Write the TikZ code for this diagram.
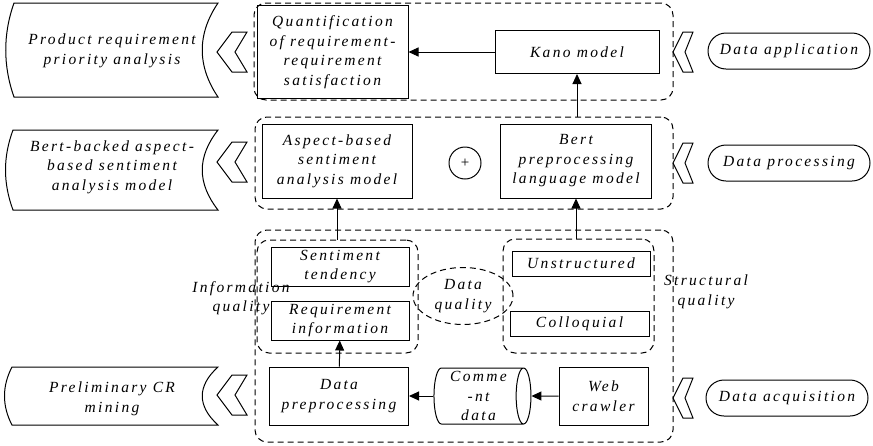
\documentclass[tikz,border=0pt]{standalone}
\usepackage{fontspec}
\setmainfont{Liberation Serif}[LetterSpace=15]
\usetikzlibrary{shapes.geometric,shapes.misc,arrows.meta}

\tikzset{
    box/.style={draw, rectangle, align=center, inner sep=0pt},
    group/.style={draw, dashed, dash pattern=on 6pt off 4pt, rounded corners=12pt, rectangle, inner sep=0pt},
    stage/.style={draw, rounded rectangle, minimum width=162pt, minimum height=36pt, inner sep=0pt},
    arr/.style={-{Triangle[length=10pt,width=9pt]}},
    chevron/.pic={\draw (0,0) -- (10,-20) -- (20,-20) -- (12,0) -- (20,20) -- (10,20) -- cycle;}
}

\begin{document}
\begin{tikzpicture}[x=1pt, y=-1pt, line width=1pt,
    font=\fontsize{15.5}{19.5}\selectfont\itshape]
        \useasboundingbox (0,0) rectangle (873,445);

        \node[group, minimum width=419pt, minimum height=97pt] (AppGroup) at (463.5,51.5) {};
        \node[group, minimum width=418pt, minimum height=92pt] (ProcGroup) at (464,163) {};
        \node[group, minimum width=418pt, minimum height=212pt] (AcqGroup) at (464,336) {};
        \node[group, minimum width=161pt, minimum height=113pt] (InfoGroup) at (337.5,296.5) {};
        \node[group, minimum width=151pt, minimum height=114pt] (StructGroup) at (578.5,296) {};

        \node[box, minimum width=151pt, minimum height=93pt] (Quant) at (332.5,52) {Quantification\\of requirement-\\requirement\\satisfaction};
        \node[box, minimum width=164pt, minimum height=43pt] (Kano) at (577,52) {Kano model};
        \node[box, minimum width=150pt, minimum height=74pt] (Aspect) at (337,161) {Aspect-based\\sentiment\\analysis model};
        \node[box, minimum width=151pt, minimum height=74pt] (Bert) at (576,161) {Bert\\preprocessing\\language model};
        \node[draw, circle, minimum size=32pt, inner sep=0pt] (Plus) at (465,163) {\normalfont\fontsize{15}{15}\selectfont +};

        \node[box, minimum width=138pt, minimum height=39pt] (Sentiment) at (340,266.5) {Sentiment\\tendency};
        \node[box, minimum width=138pt, minimum height=39pt] (ReqInfo) at (340,320.5) {Requirement\\information};
        \node[box, minimum width=138pt, minimum height=25pt] (Unstructured) at (581,263.5) {Unstructured};
        \node[box, minimum width=139pt, minimum height=25pt] (Colloquial) at (579.5,323.5) {Colloquial};
        \node[draw, ellipse, dashed, dash pattern=on 6pt off 4pt, minimum width=100pt, minimum height=57pt, inner sep=0pt, align=center] (DataQuality) at (463,296) {Data\\quality};
        \node[align=center] (InfoQuality) at (241,298) {Information\\quality};
        \node[align=center] (StructQuality) at (706,292) {Structural\\quality};

        \node[box, minimum width=139pt, minimum height=58pt] (Prep) at (339,396) {Data\\preprocessing};
        \node[draw, cylinder, aspect=0.3, minimum width=56pt, minimum height=97pt, inner sep=0pt, align=center] (Comment) at (478.5,396) {Comme\\-nt\\data};
        \node[box, minimum width=89pt, minimum height=58pt] (Crawler) at (603.5,396) {Web\\crawler};

        \draw (14,3) -- (218,3) .. controls (197,34) and (197,66) .. (218,97) -- (14,97) .. controls (3,66) and (3,34) .. (14,3) -- cycle;
        \draw (13,130) -- (218,130) .. controls (197,157) and (197,183) .. (218,210) -- (13,210) .. controls (3,183) and (3,157) .. (13,130) -- cycle;
        \draw (12,367) -- (218,367) .. controls (197,386) and (197,406) .. (218,425) -- (12,425) .. controls (2,406) and (2,386) .. (12,367) -- cycle;
        \node[align=center] (Priority) at (112,51) {Product requirement\\priority analysis};
        \node[align=center] (Absa) at (112,167) {Bert-backed aspect-\\based sentiment\\analysis model};
        \node[align=center] (Mining) at (112,399) {Preliminary CR\\mining};

        \pic[xscale=1.5] at (217,52) {chevron};
        \pic[xscale=1.5] at (217,162) {chevron};
        \pic[xscale=1.5] at (217,395) {chevron};
        \pic at (673,52) {chevron};
        \pic at (673,163) {chevron};
        \pic at (673,398) {chevron};

        \node[stage] (Application) at (789,51) {Data application};
        \node[stage] (Processing) at (789,163) {Data processing};
        \node[stage] (Acquisition) at (787,398) {Data acquisition};

        \draw[arr] (Kano) -- (Quant);
        \draw[arr] (ProcGroup.north -| Kano.south) -- (Kano.south);
        \draw[arr] (InfoGroup.north -| Aspect.south) -- (Aspect.south);
        \draw[arr] (StructGroup.north -| Bert.south) -- (Bert.south);
        \draw[arr] (Prep) -- (ReqInfo);
        \draw[arr] (Comment) -- (Prep);
        \draw[arr] (Crawler) -- (Comment);
    \end{tikzpicture}
\end{document}
